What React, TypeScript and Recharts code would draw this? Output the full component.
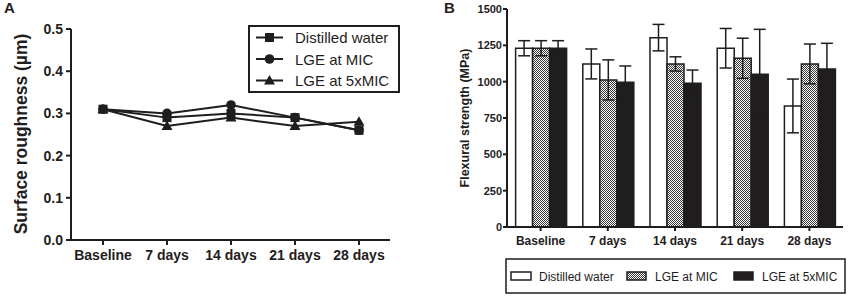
import React from 'react';
import { LineChart, Line, XAxis, YAxis, BarChart, Bar, ErrorBar } from 'recharts';

const categories = ['Baseline', '7 days', '14 days', '21 days', '28 days'];
const seriesNames = ['Distilled water', 'LGE at MIC', 'LGE at 5xMIC'];

const roughnessWater = [0.31, 0.29, 0.3, 0.29, 0.26];
const roughnessMIC = [0.31, 0.3, 0.32, 0.29, 0.26];
const roughness5xMIC = [0.31, 0.27, 0.29, 0.27, 0.28];
const roughnessTicks = [0, 0.1, 0.2, 0.3, 0.4, 0.5];

const strengthWater = [1230, 1122, 1303, 1230, 833];
const strengthWaterErr = [52, 103, 91, 136, 185];
const strengthMIC = [1230, 1012, 1122, 1161, 1122];
const strengthMICErr = [52, 138, 49, 138, 137];
const strength5xMIC = [1230, 996, 989, 1051, 1087];
const strength5xMICErr = [52, 112, 91, 309, 177];
const strengthTicks = [0, 250, 500, 750, 1000, 1250, 1500];

const INK = '#1f1d1d';
const FONT = '"Liberation Sans", Arial, sans-serif';

const lineData = categories.map((c, i) => ({
  category: c,
  water: roughnessWater[i],
  mic: roughnessMIC[i],
  mic5: roughness5xMIC[i],
}));

const barData = categories.map((c, i) => ({
  category: c,
  water: strengthWater[i],
  waterErr: strengthWaterErr[i],
  mic: strengthMIC[i],
  micErr: strengthMICErr[i],
  mic5: strength5xMIC[i],
  mic5Err: strength5xMICErr[i],
}));

const drawSquare = (cx: number, cy: number, key?: any) => (
  <rect key={key} x={cx - 4.5} y={cy - 4.5} width={9} height={9} fill={INK} />
);
const drawCircle = (cx: number, cy: number, key?: any) => (
  <circle key={key} cx={cx} cy={cy} r={4.8} fill={INK} />
);
const drawTriangle = (cx: number, cy: number, key?: any) => (
  <polygon
    key={key}
    points={`${cx},${cy - 5.5} ${cx - 5.5},${cy + 4} ${cx + 5.5},${cy + 4}`}
    fill={INK}
  />
);
const shapes = [drawSquare, drawCircle, drawTriangle];

const makeDot = (fn: any) => (props: any) => {
  const { cx, cy, index } = props;
  if (cx == null || cy == null) return <g key={`e${index}`} />;
  return fn(cx, cy, `d${index}`);
};

const axisLine = { stroke: INK, strokeWidth: 2 };

function LegendA() {
  const rows = [11.5, 33, 54.5];
  return (
    <svg width={154} height={68} style={{ position: 'absolute', left: 247, top: 25 }}>
      <rect x={2} y={1} width={150} height={66} fill="#fff" stroke={INK} strokeWidth={2} />
      {seriesNames.map((name, i) => (
        <g key={name}>
          <line x1={9} x2={36} y1={rows[i] + 1} y2={rows[i] + 1} stroke={INK} strokeWidth={2} />
          {shapes[i](22.5, rows[i] + 1)}
          <text
            x={48}
            y={rows[i] + 1}
            dominantBaseline="central"
            fontSize={15}
            fontFamily={FONT}
            fill={INK}
          >
            {name}
          </text>
        </g>
      ))}
    </svg>
  );
}

function LegendB() {
  const fills = ['#ffffff', 'url(#checker)', INK];
  const swatchX = [6, 122, 229];
  return (
    <svg width={341} height={36} style={{ position: 'absolute', left: 505, top: 258 }}>
      <rect x={1} y={1} width={339} height={34} fill="#fff" stroke={INK} strokeWidth={1.5} />
      {seriesNames.map((name, i) => (
        <g key={name}>
          <rect
            x={swatchX[i]}
            y={14}
            width={i === 0 ? 20 : 19}
            height={8}
            fill={fills[i]}
            stroke={INK}
            strokeWidth={1.5}
          />
          <text
            x={swatchX[i] + 28}
            y={18.5}
            dominantBaseline="central"
            fontSize={12}
            fontFamily={FONT}
            fill={INK}
          >
            {name}
          </text>
        </g>
      ))}
    </svg>
  );
}

export default function App() {
  return (
    <div
      style={{
        position: 'fixed',
        left: 0,
        top: 0,
        width: 851,
        height: 300,
        background: '#fff',
        fontFamily: FONT,
        overflow: 'hidden',
      }}
    >
      <svg width={851} height={300} style={{ position: 'absolute', left: 0, top: 0 }}>
        <defs>
          <pattern id="checker" width={2} height={2} patternUnits="userSpaceOnUse">
            <rect x={0} y={0} width={2} height={2} fill="#ffffff" />
            <rect x={0} y={0} width={1} height={1} fill="#3a3838" />
            <rect x={1} y={1} width={1} height={1} fill="#3a3838" />
          </pattern>
        </defs>
        <text x={4} y={13} fontSize={15} fontWeight="bold" fontFamily={FONT} fill={INK}>
          A
        </text>
        <text x={444} y={13} fontSize={15} fontWeight="bold" fontFamily={FONT} fill={INK}>
          B
        </text>
        <text
          x={21}
          y={134}
          transform="rotate(-90 21 134)"
          textAnchor="middle"
          dominantBaseline="central"
          fontSize={17.5}
          fontWeight="bold"
          fontFamily={FONT}
          fill={INK}
        >
          Surface roughness (µm)
        </text>
        <text
          x={465}
          y={118}
          transform="rotate(-90 465 118)"
          textAnchor="middle"
          dominantBaseline="central"
          fontSize={12.5}
          fontWeight="bold"
          fontFamily={FONT}
          fill={INK}
        >
          Flexural strength (MPa)
        </text>
      </svg>

      <div style={{ position: 'absolute', left: 0, top: 0 }}>
        <LineChart
          width={420}
          height={300}
          data={lineData}
          margin={{ top: 29, right: 30, left: 0, bottom: 30 }}
        >
          <XAxis
            dataKey="category"
            height={30}
            padding={{ left: 32, right: 31 }}
            axisLine={axisLine}
            tickLine={axisLine}
            tickSize={5}
            tickMargin={5}
            interval={0}
            tick={{ fontSize: 14, fontWeight: 'bold', fill: INK, fontFamily: FONT }}
          />
          <YAxis
            width={71}
            domain={[0, 0.5]}
            ticks={roughnessTicks}
            tickFormatter={(v: number) => v.toFixed(1)}
            axisLine={axisLine}
            tickLine={axisLine}
            tickSize={5}
            tickMargin={3}
            interval={0}
            tick={{ fontSize: 14, fontWeight: 'bold', fill: INK, fontFamily: FONT }}
          />
          <Line
            dataKey="mic5"
            name={seriesNames[2]}
            stroke={INK}
            strokeWidth={2}
            dot={makeDot(drawTriangle)}
            activeDot={false}
            isAnimationActive={false}
          />
          <Line
            dataKey="mic"
            name={seriesNames[1]}
            stroke={INK}
            strokeWidth={2}
            dot={makeDot(drawCircle)}
            activeDot={false}
            isAnimationActive={false}
          />
          <Line
            dataKey="water"
            name={seriesNames[0]}
            stroke={INK}
            strokeWidth={2}
            dot={makeDot(drawSquare)}
            activeDot={false}
            isAnimationActive={false}
          />
        </LineChart>
        <LegendA />
      </div>

      <div style={{ position: 'absolute', left: 430, top: 0 }}>
        <BarChart
          width={421}
          height={300}
          data={barData}
          margin={{ top: 9, right: 8, left: 0, bottom: 43 }}
          barCategoryGap="12.8%"
          barGap={0}
        >
          <XAxis
            dataKey="category"
            height={30}
            axisLine={axisLine}
            tickLine={axisLine}
            tickSize={4}
            tickMargin={5}
            interval={0}
            tick={{ fontSize: 12, fontWeight: 'bold', fill: INK, fontFamily: FONT }}
          />
          <YAxis
            width={77}
            domain={[0, 1500]}
            ticks={strengthTicks}
            axisLine={axisLine}
            tickLine={axisLine}
            tickSize={4}
            tickMargin={1}
            interval={0}
            tick={{ fontSize: 11, fontWeight: 'bold', fill: INK, fontFamily: FONT }}
          />
          <Bar
            dataKey="water"
            name={seriesNames[0]}
            fill="#ffffff"
            stroke={INK}
            strokeWidth={1.5}
            isAnimationActive={false}
          >
            <ErrorBar dataKey="waterErr" width={6} stroke={INK} strokeWidth={1.5} direction="y" />
          </Bar>
          <Bar
            dataKey="mic"
            name={seriesNames[1]}
            fill="url(#checker)"
            stroke={INK}
            strokeWidth={1.5}
            isAnimationActive={false}
          >
            <ErrorBar dataKey="micErr" width={6} stroke={INK} strokeWidth={1.5} direction="y" />
          </Bar>
          <Bar
            dataKey="mic5"
            name={seriesNames[2]}
            fill={INK}
            stroke={INK}
            strokeWidth={1.5}
            isAnimationActive={false}
          >
            <ErrorBar dataKey="mic5Err" width={6} stroke={INK} strokeWidth={1.5} direction="y" />
          </Bar>
        </BarChart>
      </div>
      <LegendB />
    </div>
  );
}
